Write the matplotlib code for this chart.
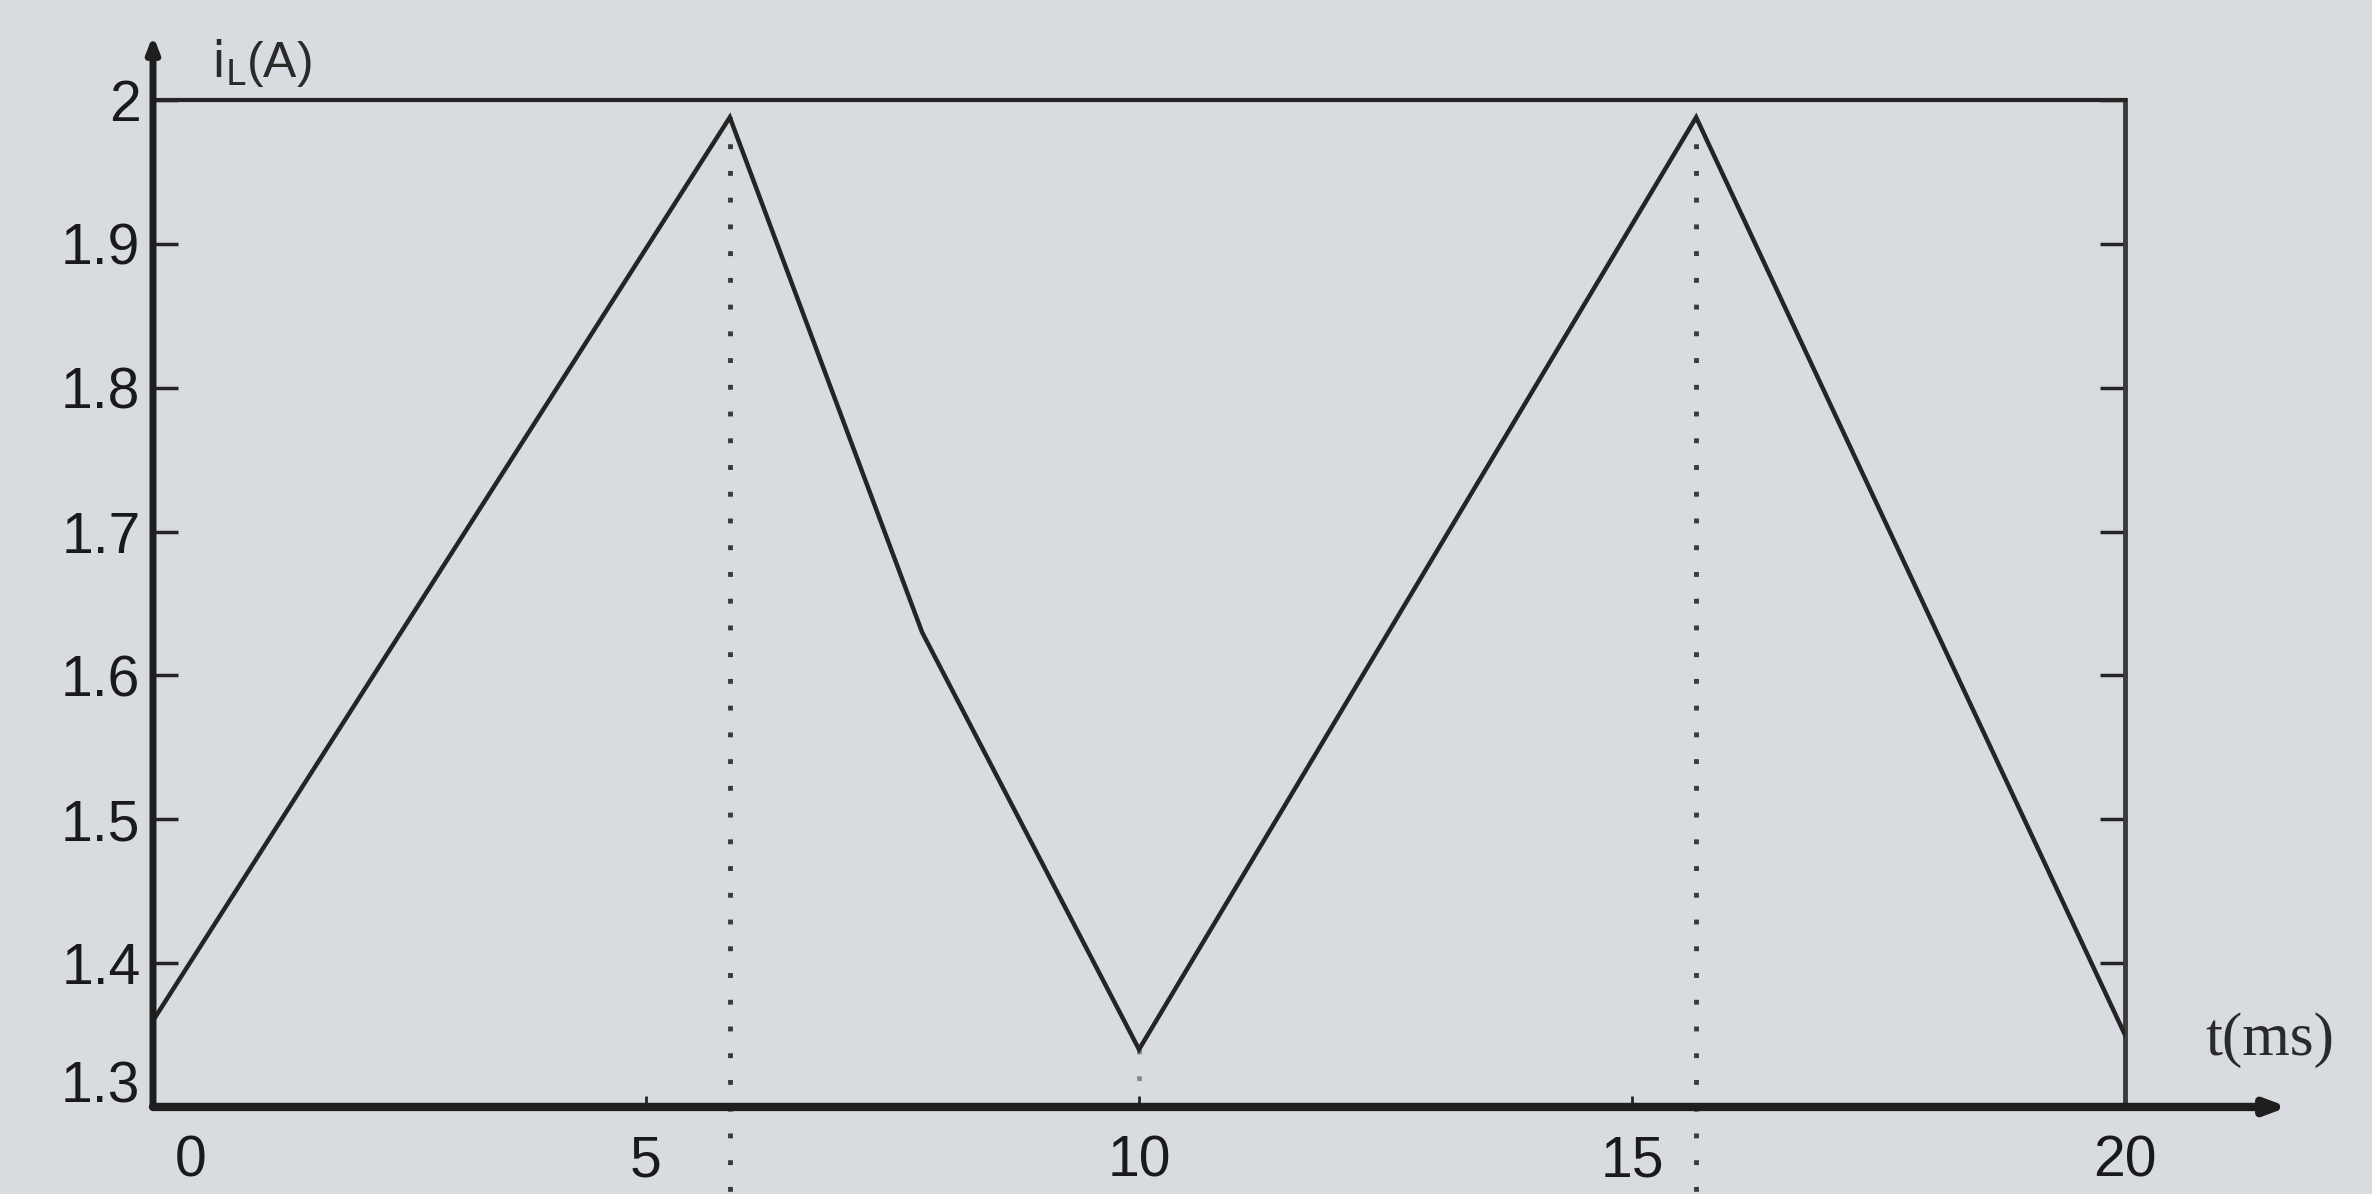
import matplotlib
matplotlib.use("Agg")
import matplotlib.pyplot as plt
from matplotlib.transforms import ScaledTranslation

# Inductor current waveform (triangular), time in ms, current in A
t_ms = [0.0, 5.85, 7.8, 10.0, 15.65, 20.0]
i_l = [1.36, 1.988, 1.63, 1.34, 1.988, 1.35]

# Instants of the current peaks (marked with dotted verticals)
peak_t = [5.85, 15.65]
peak_i = [1.988, 1.988]
trough_t = [10.0]
trough_i = [1.34]

x_ticks = [0, 5, 10, 15, 20]
x_ticklabels = ["0", "5", "10", "15", "20"]
y_ticks = [1.3, 1.4, 1.5, 1.6, 1.7, 1.8, 1.9, 2.0]
y_ticklabels = ["1.3", "1.4", "1.5", "1.6", "1.7", "1.8", "1.9", "2"]

BG = "#d8dbdf"
INK = "#242424"

plt.rcParams["font.family"] = ["Liberation Sans", "DejaVu Sans"]

fig = plt.figure(figsize=(23.72, 11.94), dpi=100, facecolor=BG)
ax = fig.add_axes([0.0645, 0.0729, 0.8314, 0.8433], facecolor=BG)

ax.set_xlim(0, 20)
ax.set_ylim(1.3, 2.0)

# waveform
ax.plot(t_ms, i_l, color=INK, lw=3.2, solid_joinstyle="miter", zorder=3)

# dotted guides from the peaks down past the time axis
for tp, ip in zip(peak_t, peak_i):
    ax.plot([tp, tp], [ip, 1.235], color="#3a3a3a", lw=3.5,
            linestyle=(0, (1, 4.5)), clip_on=False, zorder=2)
for tt, it in zip(trough_t, trough_i):
    ax.plot([tt, tt], [it, 1.3], color="#8a8a8a", lw=3.5,
            linestyle=(0, (1, 4.5)), clip_on=False, zorder=2)

# frame: thin top and right edges, arrowed axes at left and bottom
ax.spines["left"].set_visible(False)
ax.spines["bottom"].set_visible(False)
ax.spines["top"].set_linewidth(3.0)
ax.spines["top"].set_color(INK)
ax.spines["right"].set_linewidth(3.5)
ax.spines["right"].set_color("#3a3a3a")

ax.annotate("", xy=(21.65, 1.3), xytext=(0, 1.3), xycoords="data",
            annotation_clip=False,
            arrowprops=dict(arrowstyle="-|>,head_length=1.2,head_width=0.45",
                            lw=6, color="#1e1e1e", shrinkA=0, shrinkB=0))
ax.annotate("", xy=(0, 2.045), xytext=(0, 1.3), xycoords="data",
            annotation_clip=False,
            arrowprops=dict(arrowstyle="-|>,head_length=0.9,head_width=0.35",
                            lw=5, color="#1e1e1e", shrinkA=0, shrinkB=0))

# ticks
ax.set_xticks(x_ticks)
ax.set_xticklabels(x_ticklabels)
ax.set_yticks(y_ticks)
ax.set_yticklabels(y_ticklabels)
ax.tick_params(axis="x", direction="in", length=8, width=2, color=INK,
               labelsize=41, labelcolor="#1a1a1a", pad=20)
ax.tick_params(axis="y", direction="in", length=18, width=2.5, color=INK,
               labelsize=41, labelcolor="#1a1a1a", pad=9,
               right=True, labelright=False)

# the origin labels sit a little off the corner of the axes
zero_lbl = ax.get_xticklabels()[0]
zero_lbl.set_transform(zero_lbl.get_transform()
                       + ScaledTranslation(0.38, 0, fig.dpi_scale_trans))
low_lbl = ax.get_yticklabels()[0]
low_lbl.set_transform(low_lbl.get_transform()
                      + ScaledTranslation(0, 0.25, fig.dpi_scale_trans))

# axis names
fig.text(211 / 2372, 1 - 63 / 1194, r"$\mathrm{i}_\mathrm{L}$(A)", fontsize=36,
         color="#2a2a2a", ha="left", va="center")
fig.text(2205 / 2372, 1 - 1040 / 1194, "t(ms)", fontsize=44, color="#2a2a2a",
         ha="left", va="center", family="Liberation Serif")

fig.savefig("out.png", dpi=100, facecolor=BG)
